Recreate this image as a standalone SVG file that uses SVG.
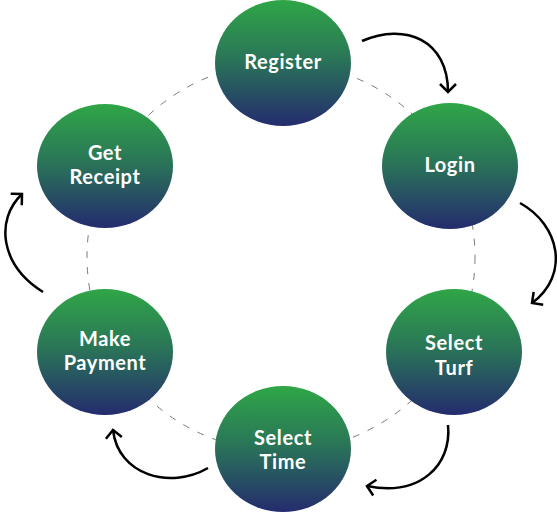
<svg xmlns="http://www.w3.org/2000/svg" width="557" height="512" viewBox="0 0 557 512">
<defs>
<linearGradient id="g" x1="0" y1="0" x2="0" y2="1">
<stop offset="0" stop-color="#2fa647"/>
<stop offset="0.45" stop-color="#2a7757"/>
<stop offset="1" stop-color="#242c6e"/>
</linearGradient>
<marker id="ah" markerUnits="userSpaceOnUse" markerWidth="20" markerHeight="20" viewBox="-10 -10 20 20" refX="0" refY="0" orient="auto" overflow="visible">
<path d="M-8,-8 L0,0 L-8,8" fill="none" stroke="#000" stroke-width="2.5"/>
</marker>
<style>
.node ellipse{fill:url(#g);}
.node text{font-family:"Lato","Liberation Sans",sans-serif;font-weight:700;font-size:20px;letter-spacing:0.6px;fill:#fff;text-anchor:middle;}
.ring{fill:none;stroke:#7a7a7a;stroke-width:1;stroke-dasharray:7 9;}
.arrow{fill:none;stroke:#000;stroke-width:2.5;marker-end:url(#ah);}
</style>
</defs>
<circle class="ring" cx="281" cy="257" r="194"/>
<g id="connectors">
<path class="arrow" d="M362,41 C405,22 448,40 448,92"/>
<path class="arrow" d="M520,203 C560,225 570,275 532,303"/>
<path class="arrow" d="M448,425 C452,465 420,497 367,486"/>
<path class="arrow" d="M208,468 C170,490 118,475 113,430"/>
<path class="arrow" d="M43,292 C0,265 -5,220 22,194"/>
</g>
<g id="register" class="node"><ellipse cx="283" cy="63" rx="68" ry="63"/><text x="283" y="69">Register</text></g>
<g id="login" class="node"><ellipse cx="450" cy="166" rx="68" ry="63"/><text x="450" y="172">Login</text></g>
<g id="select-turf" class="node"><ellipse cx="454" cy="352" rx="68" ry="63"/><text x="454" y="350">Select</text><text x="454" y="375">Turf</text></g>
<g id="select-time" class="node"><ellipse cx="283" cy="449" rx="68" ry="63"/><text x="283" y="445">Select</text><text x="283" y="469">Time</text></g>
<g id="make-payment" class="node"><ellipse cx="105" cy="352" rx="68" ry="63"/><text x="105" y="346">Make</text><text x="105" y="370">Payment</text></g>
<g id="get-receipt" class="node"><ellipse cx="105" cy="166" rx="68" ry="62"/><text x="105" y="160">Get</text><text x="105" y="184">Receipt</text></g>
</svg>
